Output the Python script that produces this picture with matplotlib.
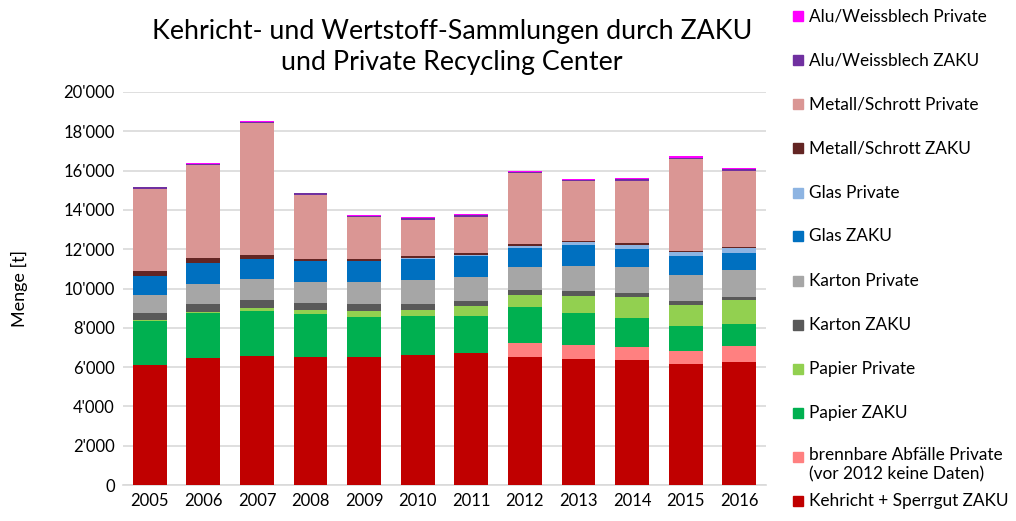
import matplotlib
matplotlib.use("Agg")
import matplotlib.pyplot as plt
from matplotlib.patches import Rectangle
from matplotlib.ticker import FuncFormatter, MultipleLocator

plt.rcParams['font.family'] = ['Lato', 'DejaVu Sans']

years = ['2005', '2006', '2007', '2008', '2009', '2010', '2011', '2012', '2013', '2014', '2015', '2016']

# series, bottom to top
kehricht_zaku   = [6120, 6440, 6580, 6530, 6530, 6630, 6730, 6530, 6410, 6340, 6170, 6250]
brennbar_priv   = [0, 0, 0, 0, 0, 0, 0, 720, 690, 660, 630, 820]
papier_zaku     = [2220, 2310, 2280, 2160, 2030, 1960, 1880, 1820, 1650, 1510, 1270, 1120]
papier_priv     = [50, 60, 140, 210, 320, 330, 490, 590, 880, 1070, 1100, 1220]
karton_zaku     = [360, 380, 390, 340, 310, 300, 270, 270, 250, 180, 170, 170]
karton_priv     = [910, 1030, 1080, 1100, 1130, 1220, 1220, 1140, 1240, 1340, 1370, 1350]
glas_zaku       = [970, 1070, 1020, 1070, 1070, 1050, 1070, 1010, 1100, 930, 950, 870]
glas_priv       = [0, 0, 0, 0, 0, 50, 50, 90, 140, 190, 190, 250]
metall_zaku     = [270, 250, 220, 100, 120, 100, 90, 80, 60, 100, 50, 50]
metall_priv     = [4180, 4730, 6710, 3270, 2130, 1870, 1860, 3630, 3050, 3170, 4710, 3900]
alu_zaku        = [70, 70, 70, 70, 70, 70, 70, 70, 70, 70, 50, 70]
alu_priv        = [30, 70, 50, 30, 50, 50, 50, 50, 50, 50, 60, 50]

series = [
    ("Kehricht + Sperrgut ZAKU", kehricht_zaku, "#C00000"),
    ("brennbare Abfälle Private\n(vor 2012 keine Daten)", brennbar_priv, "#FF8080"),
    ("Papier ZAKU", papier_zaku, "#00B050"),
    ("Papier Private", papier_priv, "#92D050"),
    ("Karton ZAKU", karton_zaku, "#595959"),
    ("Karton Private", karton_priv, "#A6A6A6"),
    ("Glas ZAKU", glas_zaku, "#0070C0"),
    ("Glas Private", glas_priv, "#8DB4E2"),
    ("Metall/Schrott ZAKU", metall_zaku, "#632523"),
    ("Metall/Schrott Private", metall_priv, "#DA9694"),
    ("Alu/Weissblech ZAKU", alu_zaku, "#7030A0"),
    ("Alu/Weissblech Private", alu_priv, "#FF00FF"),
]

W, H = 1016, 521
fig = plt.figure(figsize=(W / 100, H / 100), dpi=100)
ax = fig.add_axes([123 / W, 1 - 485 / H, (766 - 123) / W, (485 - 92) / H])

x = list(range(len(years)))
bottom = [0] * len(years)
for name, vals, col in series:
    ax.bar(x, vals, width=0.63, bottom=bottom, color=col, edgecolor='none', zorder=3)
    bottom = [b + v for b, v in zip(bottom, vals)]

ax.set_xlim(-0.5, len(years) - 0.5)
ax.set_ylim(0, 20000)
ax.yaxis.set_major_locator(MultipleLocator(2000))
ax.yaxis.set_major_formatter(FuncFormatter(lambda v, p: f"{int(v):,}".replace(",", "'")))
ax.set_xticks(x)
ax.set_xticklabels(years)
ax.grid(axis='y', color='#D9D9D9', linewidth=1.2, zorder=0)
for s in ['top', 'right', 'left']:
    ax.spines[s].set_visible(False)
ax.spines['bottom'].set_color('#D9D9D9')
ax.spines['bottom'].set_linewidth(1.2)
ax.tick_params(axis='both', length=0, labelsize=12, colors='#000000', pad=6)
ax.set_ylabel("Menge [t]", fontsize=13)
ax.yaxis.set_label_coords(-0.147, 0.5)

fig.text(452 / W, 1 - 47 / H, "Kehricht- und Wertstoff-Sammlungen durch ZAKU\nund Private Recycling Center",
         ha='center', va='center', fontsize=19.3, linespacing=1.32)

# legend (top to bottom), manually laid out
leg_y = [16, 60, 104, 148, 193, 236, 281, 325, 369, 413, 457, 501]
for (name, vals, col), yc in zip(series[::-1], leg_y):
    fig.add_artist(Rectangle(((793) / W, 1 - (yc + 5) / H), 10 / W, 10 / H,
                             transform=fig.transFigure, color=col))
    if '\n' in name:
        fig.text(809 / W, 1 - (yc - 10) / H, name, ha='left', va='top',
                 fontsize=12.4, linespacing=1.25)
    else:
        fig.text(809 / W, 1 - yc / H, name, ha='left', va='center', fontsize=12.4)

fig.savefig("out.png", dpi=100)
